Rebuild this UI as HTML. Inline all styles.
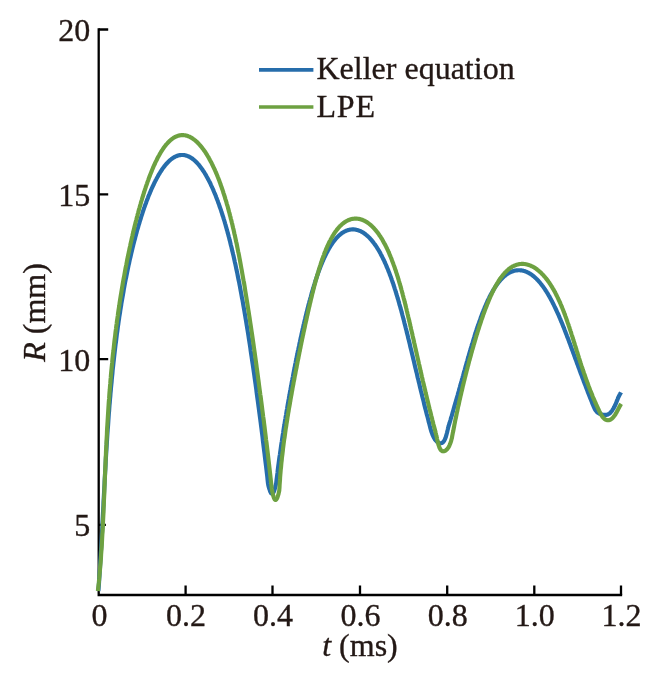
<!DOCTYPE html>
<html lang="en">
<head>
<meta charset="utf-8">
<title>Keller equation vs LPE</title>
<style>
html,body{margin:0;padding:0;background:#fff;}
body{width:669px;height:676px;overflow:hidden;}
</style>
</head>
<body>
<svg width="669" height="676" viewBox="0 0 669 676" style="display:block">
<rect width="669" height="676" fill="#fff"/>
<path d="M98.7,29.5 H108.2 M98.7,194.3 H108.2 M98.7,359.2 H108.2 M98.7,524.8 H105.9 M185.6,595.0 V585.5 M272.5,595.0 V585.5 M360.0,595.0 V585.5 M447.2,595.0 V585.5 M534.3,595.0 V585.5 M621.0,595.0 V585.5" stroke="#000" stroke-width="2.3" fill="none"/>
<path d="M98.7,28.35 V595.0 H622.15" stroke="#000" stroke-width="2.3" fill="none" stroke-linejoin="miter"/>
<path d="M98.4,591.0 L98.7,587.1 L99.0,583.2 L99.2,579.3 L99.5,575.5 L99.7,571.6 L100.0,567.8 L100.2,564.0 L100.4,560.2 L100.6,556.5 L100.8,552.7 L101.1,549.0 L101.3,545.3 L101.5,541.6 L101.7,537.9 L101.9,534.2 L102.1,530.6 L102.3,527.0 L102.4,523.4 L102.6,519.8 L102.8,516.2 L103.0,512.6 L103.2,509.1 L103.4,505.6 L103.5,502.1 L103.7,498.6 L103.9,495.1 L104.1,491.7 L104.3,488.2 L104.5,484.8 L104.6,481.4 L104.8,478.0 L105.0,474.7 L105.2,471.3 L105.4,468.0 L105.6,464.7 L105.7,461.4 L105.9,458.1 L106.1,454.9 L106.3,451.6 L106.5,448.4 L106.7,445.2 L106.9,442.0 L107.1,438.9 L107.3,435.7 L107.5,432.6 L107.7,429.5 L108.0,426.4 L108.2,423.3 L108.4,420.2 L108.6,417.2 L108.8,414.1 L109.1,411.1 L109.3,408.1 L109.5,405.2 L109.8,402.2 L110.0,399.3 L110.3,396.3 L110.5,393.4 L110.8,390.6 L111.0,387.7 L111.3,384.8 L111.6,382.0 L111.8,379.2 L112.1,376.4 L112.4,373.6 L112.6,370.8 L112.9,368.1 L113.2,365.4 L113.5,362.6 L113.8,360.0 L114.1,357.3 L114.4,354.6 L114.7,352.0 L115.0,349.4 L115.3,346.7 L115.6,344.2 L116.0,341.6 L116.3,339.0 L116.6,336.5 L116.9,334.0 L117.3,331.5 L117.6,329.0 L117.9,326.5 L118.3,324.1 L118.6,321.7 L119.0,319.2 L119.3,316.8 L119.7,314.5 L120.1,312.1 L120.4,309.8 L120.8,307.4 L121.2,305.1 L121.5,302.8 L121.9,300.6 L122.3,298.3 L122.7,296.1 L123.1,293.9 L123.5,291.7 L123.8,289.5 L124.2,287.3 L124.6,285.2 L125.0,283.0 L125.4,280.9 L125.8,278.8 L126.3,276.7 L126.7,274.7 L127.1,272.6 L127.5,270.6 L127.9,268.6 L128.3,266.6 L128.7,264.6 L129.2,262.7 L129.6,260.7 L130.0,258.8 L130.5,256.9 L130.9,255.0 L131.3,253.2 L131.8,251.3 L132.2,249.5 L132.6,247.7 L133.1,245.9 L133.5,244.1 L134.0,242.3 L134.4,240.6 L134.9,238.9 L135.3,237.2 L135.8,235.5 L136.2,233.8 L136.7,232.1 L137.1,230.5 L137.6,228.9 L138.1,227.3 L138.5,225.7 L139.0,224.1 L139.5,222.6 L139.9,221.0 L140.4,219.5 L140.9,218.0 L141.3,216.5 L141.8,215.1 L142.3,213.6 L142.7,212.2 L143.2,210.8 L143.7,209.4 L144.1,208.0 L144.6,206.7 L145.1,205.3 L145.6,204.0 L146.1,202.7 L146.5,201.4 L147.0,200.1 L147.5,198.9 L148.0,197.7 L148.4,196.4 L148.9,195.2 L149.4,194.1 L149.9,192.9 L150.4,191.7 L150.9,190.6 L151.3,189.5 L151.8,188.4 L152.3,187.3 L152.8,186.3 L153.3,185.2 L153.8,184.2 L154.2,183.2 L154.7,182.2 L155.2,181.3 L155.7,180.3 L156.2,179.4 L156.7,178.4 L157.2,177.5 L157.7,176.7 L158.1,175.8 L158.6,174.9 L159.1,174.1 L159.6,173.3 L160.1,172.5 L160.6,171.7 L161.1,171.0 L161.6,170.2 L162.1,169.5 L162.5,168.8 L163.0,168.1 L163.5,167.4 L164.0,166.8 L164.5,166.2 L165.0,165.5 L165.5,164.9 L166.0,164.3 L166.5,163.8 L167.0,163.2 L167.5,162.7 L168.0,162.2 L168.4,161.7 L168.9,161.2 L169.4,160.8 L169.9,160.3 L170.4,159.9 L170.9,159.5 L171.4,159.1 L171.9,158.7 L172.4,158.4 L172.9,158.0 L173.4,157.7 L173.9,157.4 L174.4,157.1 L174.9,156.8 L175.3,156.6 L175.8,156.4 L176.3,156.2 L176.8,156.0 L177.3,155.8 L177.8,155.6 L178.3,155.5 L178.8,155.3 L179.3,155.2 L179.8,155.1 L180.3,155.1 L180.8,155.0 L181.3,155.0 L181.8,155.0 L182.3,155.0 L182.8,155.0 L183.3,155.0 L183.8,155.0 L184.3,155.1 L184.8,155.2 L185.3,155.3 L185.7,155.4 L186.2,155.6 L186.7,155.7 L187.2,155.9 L187.7,156.1 L188.2,156.3 L188.7,156.5 L189.2,156.8 L189.7,157.0 L190.2,157.3 L190.7,157.6 L191.2,157.9 L191.7,158.2 L192.2,158.6 L192.7,158.9 L193.2,159.3 L193.7,159.7 L194.2,160.1 L194.7,160.6 L195.2,161.0 L195.7,161.5 L196.2,162.0 L196.7,162.5 L197.2,163.0 L197.7,163.6 L198.2,164.1 L198.7,164.7 L199.2,165.3 L199.6,165.9 L200.1,166.5 L200.6,167.2 L201.1,167.9 L201.6,168.5 L202.1,169.2 L202.6,170.0 L203.1,170.7 L203.6,171.4 L204.1,172.2 L204.6,173.0 L205.1,173.8 L205.6,174.6 L206.1,175.5 L206.5,176.3 L207.0,177.2 L207.5,178.1 L208.0,179.0 L208.5,179.9 L209.0,180.9 L209.5,181.8 L210.0,182.8 L210.5,183.8 L210.9,184.8 L211.4,185.9 L211.9,186.9 L212.4,188.0 L212.9,189.1 L213.4,190.2 L213.8,191.3 L214.3,192.5 L214.8,193.6 L215.3,194.8 L215.8,196.0 L216.2,197.2 L216.7,198.4 L217.2,199.7 L217.7,200.9 L218.1,202.2 L218.6,203.5 L219.1,204.8 L219.5,206.2 L220.0,207.5 L220.5,208.9 L221.0,210.3 L221.4,211.7 L221.9,213.1 L222.3,214.5 L222.8,216.0 L223.3,217.4 L223.7,218.9 L224.2,220.4 L224.7,222.0 L225.1,223.5 L225.6,225.1 L226.0,226.7 L226.5,228.3 L226.9,229.9 L227.4,231.5 L227.8,233.2 L228.3,234.8 L228.7,236.5 L229.2,238.2 L229.6,239.9 L230.1,241.7 L230.5,243.4 L230.9,245.2 L231.4,247.0 L231.8,248.8 L232.2,250.6 L232.7,252.5 L233.1,254.3 L233.6,256.2 L234.0,258.1 L234.4,260.0 L234.8,261.9 L235.3,263.9 L235.7,265.9 L236.1,267.8 L236.5,269.8 L237.0,271.9 L237.4,273.9 L237.8,276.0 L238.2,278.0 L238.6,280.1 L239.1,282.2 L239.5,284.3 L239.9,286.5 L240.3,288.6 L240.7,290.8 L241.1,293.0 L241.5,295.2 L241.9,297.5 L242.4,299.7 L242.8,302.0 L243.2,304.3 L243.6,306.6 L244.0,308.9 L244.4,311.2 L244.8,313.6 L245.2,315.9 L245.6,318.3 L246.0,320.7 L246.4,323.2 L246.8,325.6 L247.2,328.1 L247.6,330.5 L248.0,333.0 L248.4,335.5 L248.8,338.1 L249.2,340.6 L249.6,343.2 L250.0,345.8 L250.4,348.4 L250.7,351.0 L251.1,353.6 L251.5,356.3 L251.9,358.9 L252.3,361.6 L252.7,364.3 L253.1,367.0 L253.5,369.8 L253.9,372.5 L254.3,375.3 L254.7,378.1 L255.1,380.9 L255.5,383.7 L255.9,386.6 L256.3,389.5 L256.6,392.3 L257.0,395.2 L257.4,398.1 L257.8,401.1 L258.2,404.0 L258.6,407.0 L259.0,410.0 L259.4,413.0 L259.8,416.0 L260.2,419.1 L260.6,422.1 L261.0,425.2 L261.4,428.3 L261.8,431.4 L262.2,434.5 L262.6,437.7 L262.9,440.8 L263.3,444.0 L263.7,447.2 L264.1,450.4 L264.5,453.6 L264.9,456.9 L265.3,460.2 L265.7,463.4 L266.1,466.7 L266.5,470.1 L266.9,473.4 L267.3,476.8 L267.6,480.1 L268.0,483.5 L268.1,483.9 L268.2,484.5 L268.3,485.2 L268.5,486.0 L268.7,486.9 L269.0,487.8 L269.3,488.8 L269.6,489.7 L269.9,490.6 L270.2,491.5 L270.6,492.2 L270.9,492.9 L271.3,493.4 L271.7,493.7 L272.1,493.8 L272.5,493.7 L272.9,493.3 L273.3,492.7 L273.7,492.0 L274.1,491.1 L274.4,490.1 L274.7,489.1 L275.1,488.0 L275.3,486.9 L275.6,485.8 L275.8,484.8 L276.0,483.9 L276.2,483.1 L276.3,482.4 L276.3,482.0 L276.6,479.6 L276.9,477.3 L277.2,475.0 L277.5,472.7 L277.7,470.4 L278.0,468.1 L278.3,465.8 L278.6,463.6 L278.9,461.3 L279.2,459.1 L279.5,456.8 L279.9,454.6 L280.2,452.4 L280.5,450.2 L280.8,448.0 L281.1,445.9 L281.4,443.7 L281.8,441.5 L282.1,439.4 L282.4,437.3 L282.7,435.2 L283.1,433.0 L283.4,430.9 L283.7,428.9 L284.0,426.8 L284.4,424.7 L284.7,422.7 L285.0,420.6 L285.4,418.6 L285.7,416.6 L286.1,414.6 L286.4,412.6 L286.7,410.6 L287.1,408.6 L287.4,406.6 L287.7,404.7 L288.1,402.7 L288.4,400.8 L288.8,398.9 L289.1,396.9 L289.5,395.0 L289.8,393.1 L290.1,391.3 L290.5,389.4 L290.8,387.5 L291.2,385.7 L291.5,383.8 L291.8,382.0 L292.2,380.2 L292.5,378.4 L292.9,376.6 L293.2,374.8 L293.5,373.1 L293.9,371.3 L294.2,369.5 L294.6,367.8 L294.9,366.1 L295.2,364.4 L295.6,362.6 L295.9,361.0 L296.3,359.3 L296.6,357.6 L296.9,355.9 L297.3,354.3 L297.6,352.6 L297.9,351.0 L298.3,349.4 L298.6,347.8 L299.0,346.2 L299.3,344.6 L299.6,343.0 L300.0,341.4 L300.3,339.9 L300.6,338.3 L301.0,336.8 L301.3,335.3 L301.6,333.8 L302.0,332.3 L302.3,330.8 L302.6,329.3 L303.0,327.8 L303.3,326.4 L303.6,324.9 L304.0,323.5 L304.3,322.1 L304.6,320.7 L305.0,319.3 L305.3,317.9 L305.6,316.5 L306.0,315.1 L306.3,313.8 L306.6,312.4 L307.0,311.1 L307.3,309.7 L307.6,308.4 L308.0,307.1 L308.3,305.8 L308.6,304.5 L309.0,303.3 L309.3,302.0 L309.6,300.8 L310.0,299.5 L310.3,298.3 L310.7,297.1 L311.0,295.9 L311.3,294.7 L311.7,293.5 L312.0,292.3 L312.3,291.1 L312.7,290.0 L313.0,288.9 L313.4,287.7 L313.7,286.6 L314.0,285.5 L314.4,284.4 L314.7,283.3 L315.1,282.2 L315.4,281.2 L315.7,280.1 L316.1,279.1 L316.4,278.0 L316.8,277.0 L317.1,276.0 L317.5,275.0 L317.8,274.0 L318.1,273.0 L318.5,272.1 L318.8,271.1 L319.2,270.2 L319.5,269.2 L319.9,268.3 L320.2,267.4 L320.6,266.5 L320.9,265.6 L321.3,264.7 L321.7,263.8 L322.0,263.0 L322.4,262.1 L322.7,261.3 L323.1,260.5 L323.4,259.6 L323.8,258.8 L324.2,258.0 L324.5,257.3 L324.9,256.5 L325.3,255.7 L325.6,255.0 L326.0,254.2 L326.4,253.5 L326.7,252.8 L327.1,252.1 L327.5,251.4 L327.8,250.7 L328.2,250.0 L328.6,249.4 L328.9,248.7 L329.3,248.1 L329.7,247.4 L330.1,246.8 L330.4,246.2 L330.8,245.6 L331.2,245.0 L331.6,244.4 L332.0,243.9 L332.4,243.3 L332.7,242.8 L333.1,242.2 L333.5,241.7 L333.9,241.2 L334.3,240.7 L334.7,240.2 L335.1,239.7 L335.5,239.3 L335.8,238.8 L336.2,238.4 L336.6,237.9 L337.0,237.5 L337.4,237.1 L337.8,236.7 L338.2,236.3 L338.6,235.9 L339.0,235.5 L339.4,235.2 L339.8,234.8 L340.2,234.5 L340.6,234.2 L341.0,233.8 L341.4,233.5 L341.8,233.2 L342.2,233.0 L342.6,232.7 L343.0,232.4 L343.5,232.2 L343.9,231.9 L344.3,231.7 L344.7,231.5 L345.1,231.3 L345.5,231.1 L345.9,230.9 L346.3,230.7 L346.7,230.6 L347.2,230.4 L347.6,230.3 L348.0,230.1 L348.4,230.0 L348.8,229.9 L349.2,229.8 L349.7,229.7 L350.1,229.6 L350.5,229.6 L350.9,229.5 L351.3,229.5 L351.7,229.4 L352.2,229.4 L352.6,229.4 L353.0,229.4 L353.4,229.4 L353.8,229.4 L354.3,229.5 L354.7,229.5 L355.1,229.6 L355.5,229.6 L356.0,229.7 L356.4,229.8 L356.8,229.9 L357.2,230.0 L357.6,230.1 L358.1,230.2 L358.5,230.4 L358.9,230.5 L359.3,230.7 L359.8,230.9 L360.2,231.0 L360.6,231.2 L361.0,231.4 L361.4,231.7 L361.9,231.9 L362.3,232.1 L362.7,232.4 L363.1,232.6 L363.6,232.9 L364.0,233.2 L364.4,233.5 L364.8,233.8 L365.2,234.1 L365.7,234.4 L366.1,234.8 L366.5,235.1 L366.9,235.5 L367.3,235.8 L367.7,236.2 L368.2,236.6 L368.6,237.0 L369.0,237.4 L369.4,237.8 L369.8,238.3 L370.2,238.7 L370.6,239.2 L371.1,239.6 L371.5,240.1 L371.9,240.6 L372.3,241.1 L372.7,241.6 L373.1,242.1 L373.5,242.6 L373.9,243.2 L374.3,243.7 L374.7,244.3 L375.2,244.9 L375.6,245.5 L376.0,246.1 L376.4,246.7 L376.8,247.3 L377.2,247.9 L377.6,248.6 L378.0,249.2 L378.4,249.9 L378.8,250.5 L379.2,251.2 L379.6,251.9 L380.0,252.6 L380.4,253.3 L380.7,254.1 L381.1,254.8 L381.5,255.6 L381.9,256.3 L382.3,257.1 L382.7,257.9 L383.1,258.7 L383.5,259.5 L383.9,260.3 L384.3,261.1 L384.6,261.9 L385.0,262.8 L385.4,263.6 L385.8,264.5 L386.2,265.4 L386.5,266.3 L386.9,267.2 L387.3,268.1 L387.7,269.0 L388.1,269.9 L388.4,270.9 L388.8,271.8 L389.2,272.8 L389.6,273.8 L389.9,274.8 L390.3,275.8 L390.7,276.8 L391.1,277.8 L391.4,278.8 L391.8,279.9 L392.2,280.9 L392.5,282.0 L392.9,283.1 L393.3,284.1 L393.6,285.2 L394.0,286.3 L394.4,287.5 L394.7,288.6 L395.1,289.7 L395.5,290.9 L395.8,292.0 L396.2,293.2 L396.5,294.4 L396.9,295.6 L397.3,296.8 L397.6,298.0 L398.0,299.2 L398.4,300.5 L398.7,301.7 L399.1,303.0 L399.4,304.3 L399.8,305.5 L400.2,306.8 L400.5,308.1 L400.9,309.4 L401.3,310.8 L401.6,312.1 L402.0,313.4 L402.3,314.8 L402.7,316.2 L403.1,317.6 L403.4,318.9 L403.8,320.3 L404.2,321.8 L404.5,323.2 L404.9,324.6 L405.3,326.1 L405.6,327.5 L406.0,329.0 L406.4,330.4 L406.7,331.9 L407.1,333.4 L407.5,334.9 L407.9,336.5 L408.2,338.0 L408.6,339.5 L409.0,341.1 L409.4,342.6 L409.8,344.2 L410.1,345.8 L410.5,347.4 L410.9,349.0 L411.3,350.6 L411.7,352.3 L412.1,353.9 L412.5,355.5 L412.9,357.2 L413.3,358.9 L413.7,360.6 L414.1,362.3 L414.5,364.0 L414.9,365.7 L415.3,367.4 L415.7,369.1 L416.1,370.9 L416.6,372.6 L417.0,374.4 L417.4,376.2 L417.8,378.0 L418.3,379.8 L418.7,381.6 L419.2,383.4 L419.6,385.3 L420.0,387.1 L420.5,389.0 L420.9,390.8 L421.4,392.7 L421.9,394.6 L422.3,396.5 L422.8,398.4 L423.3,400.3 L423.8,402.3 L424.2,404.2 L424.7,406.2 L425.2,408.1 L425.7,410.1 L426.2,412.1 L426.7,414.1 L427.3,416.1 L427.8,418.1 L428.3,420.1 L428.8,422.2 L429.4,424.2 L429.9,426.3 L430.1,427.0 L430.3,427.9 L430.6,429.0 L431.0,430.4 L431.4,431.8 L432.0,433.3 L432.6,434.9 L433.3,436.5 L434.1,438.0 L434.9,439.4 L435.9,440.6 L437.0,441.7 L438.2,442.5 L439.4,443.0 L440.8,443.2 L441.7,443.0 L442.6,442.6 L443.3,441.8 L444.1,440.9 L444.7,439.7 L445.3,438.4 L445.8,437.1 L446.2,435.6 L446.6,434.2 L447.0,432.8 L447.3,431.5 L447.6,430.2 L447.8,429.2 L448.0,428.4 L448.1,427.8 L448.6,426.2 L449.0,424.7 L449.5,423.3 L449.9,421.8 L450.4,420.3 L450.8,418.8 L451.2,417.4 L451.7,415.9 L452.1,414.5 L452.5,413.0 L452.9,411.6 L453.3,410.2 L453.7,408.7 L454.1,407.3 L454.5,405.9 L454.9,404.5 L455.3,403.1 L455.7,401.8 L456.1,400.4 L456.5,399.0 L456.9,397.7 L457.3,396.3 L457.7,395.0 L458.0,393.6 L458.4,392.3 L458.8,391.0 L459.1,389.6 L459.5,388.3 L459.9,387.0 L460.2,385.7 L460.6,384.5 L461.0,383.2 L461.3,381.9 L461.7,380.6 L462.0,379.4 L462.4,378.1 L462.7,376.9 L463.1,375.6 L463.4,374.4 L463.7,373.2 L464.1,372.0 L464.4,370.8 L464.8,369.6 L465.1,368.4 L465.4,367.2 L465.8,366.0 L466.1,364.8 L466.4,363.7 L466.7,362.5 L467.1,361.3 L467.4,360.2 L467.7,359.1 L468.0,357.9 L468.4,356.8 L468.7,355.7 L469.0,354.6 L469.3,353.5 L469.6,352.4 L470.0,351.3 L470.3,350.2 L470.6,349.2 L470.9,348.1 L471.2,347.0 L471.5,346.0 L471.8,344.9 L472.1,343.9 L472.5,342.9 L472.8,341.9 L473.1,340.8 L473.4,339.8 L473.7,338.8 L474.0,337.8 L474.3,336.9 L474.6,335.9 L474.9,334.9 L475.2,333.9 L475.5,333.0 L475.8,332.0 L476.1,331.1 L476.4,330.2 L476.7,329.2 L477.0,328.3 L477.3,327.4 L477.6,326.5 L478.0,325.6 L478.3,324.7 L478.6,323.8 L478.9,323.0 L479.2,322.1 L479.5,321.2 L479.8,320.4 L480.1,319.5 L480.4,318.7 L480.7,317.8 L481.0,317.0 L481.3,316.2 L481.6,315.4 L481.9,314.6 L482.2,313.8 L482.5,313.0 L482.8,312.2 L483.1,311.4 L483.4,310.7 L483.7,309.9 L484.0,309.2 L484.3,308.4 L484.6,307.7 L484.9,306.9 L485.3,306.2 L485.6,305.5 L485.9,304.8 L486.2,304.1 L486.5,303.4 L486.8,302.7 L487.1,302.0 L487.4,301.3 L487.7,300.7 L488.0,300.0 L488.4,299.4 L488.7,298.7 L489.0,298.1 L489.3,297.4 L489.6,296.8 L489.9,296.2 L490.2,295.6 L490.5,295.0 L490.9,294.4 L491.2,293.8 L491.5,293.2 L491.8,292.7 L492.1,292.1 L492.5,291.5 L492.8,291.0 L493.1,290.4 L493.4,289.9 L493.7,289.4 L494.1,288.8 L494.4,288.3 L494.7,287.8 L495.0,287.3 L495.4,286.8 L495.7,286.3 L496.0,285.9 L496.3,285.4 L496.7,284.9 L497.0,284.5 L497.3,284.0 L497.6,283.6 L498.0,283.1 L498.3,282.7 L498.6,282.3 L499.0,281.9 L499.3,281.5 L499.6,281.1 L500.0,280.7 L500.3,280.3 L500.6,279.9 L501.0,279.5 L501.3,279.2 L501.6,278.8 L502.0,278.5 L502.3,278.1 L502.7,277.8 L503.0,277.5 L503.3,277.1 L503.7,276.8 L504.0,276.5 L504.4,276.2 L504.7,275.9 L505.1,275.7 L505.4,275.4 L505.7,275.1 L506.1,274.8 L506.4,274.6 L506.8,274.3 L507.1,274.1 L507.5,273.9 L507.8,273.6 L508.2,273.4 L508.5,273.2 L508.9,273.0 L509.2,272.8 L509.6,272.6 L509.9,272.4 L510.3,272.3 L510.6,272.1 L511.0,271.9 L511.3,271.8 L511.7,271.6 L512.0,271.5 L512.4,271.4 L512.7,271.2 L513.1,271.1 L513.5,271.0 L513.8,270.9 L514.2,270.8 L514.5,270.7 L514.9,270.6 L515.2,270.6 L515.6,270.5 L516.0,270.4 L516.3,270.4 L516.7,270.3 L517.0,270.3 L517.4,270.3 L517.7,270.2 L518.1,270.2 L518.5,270.2 L518.8,270.2 L519.2,270.2 L519.5,270.2 L519.9,270.2 L520.3,270.3 L520.6,270.3 L521.0,270.3 L521.4,270.4 L521.7,270.4 L522.1,270.5 L522.4,270.6 L522.8,270.6 L523.2,270.7 L523.5,270.8 L523.9,270.9 L524.2,271.0 L524.6,271.1 L525.0,271.3 L525.3,271.4 L525.7,271.5 L526.1,271.7 L526.4,271.8 L526.8,272.0 L527.1,272.1 L527.5,272.3 L527.9,272.5 L528.2,272.7 L528.6,272.9 L529.0,273.1 L529.3,273.3 L529.7,273.5 L530.0,273.7 L530.4,273.9 L530.8,274.2 L531.1,274.4 L531.5,274.7 L531.9,274.9 L532.2,275.2 L532.6,275.5 L532.9,275.7 L533.3,276.0 L533.7,276.3 L534.0,276.6 L534.4,276.9 L534.7,277.2 L535.1,277.6 L535.5,277.9 L535.8,278.2 L536.2,278.6 L536.5,278.9 L536.9,279.3 L537.2,279.7 L537.6,280.0 L538.0,280.4 L538.3,280.8 L538.7,281.2 L539.0,281.6 L539.4,282.0 L539.8,282.4 L540.1,282.8 L540.5,283.3 L540.8,283.7 L541.2,284.2 L541.5,284.6 L541.9,285.1 L542.2,285.5 L542.6,286.0 L543.0,286.5 L543.3,287.0 L543.7,287.5 L544.0,288.0 L544.4,288.5 L544.7,289.0 L545.1,289.5 L545.4,290.1 L545.8,290.6 L546.1,291.1 L546.5,291.7 L546.8,292.3 L547.2,292.8 L547.5,293.4 L547.9,294.0 L548.2,294.6 L548.6,295.2 L548.9,295.8 L549.3,296.4 L549.6,297.0 L550.0,297.6 L550.3,298.3 L550.7,298.9 L551.0,299.6 L551.4,300.2 L551.7,300.9 L552.1,301.5 L552.4,302.2 L552.8,302.9 L553.1,303.6 L553.5,304.3 L553.8,305.0 L554.2,305.7 L554.5,306.4 L554.9,307.2 L555.2,307.9 L555.6,308.6 L555.9,309.4 L556.3,310.1 L556.6,310.9 L557.0,311.7 L557.3,312.4 L557.7,313.2 L558.1,314.0 L558.4,314.8 L558.8,315.6 L559.1,316.4 L559.5,317.3 L559.8,318.1 L560.2,318.9 L560.5,319.8 L560.9,320.6 L561.2,321.5 L561.6,322.3 L562.0,323.2 L562.3,324.1 L562.7,325.0 L563.0,325.9 L563.4,326.8 L563.8,327.7 L564.1,328.6 L564.5,329.5 L564.8,330.4 L565.2,331.4 L565.6,332.3 L565.9,333.3 L566.3,334.2 L566.7,335.2 L567.0,336.2 L567.4,337.2 L567.8,338.1 L568.2,339.1 L568.5,340.1 L568.9,341.1 L569.3,342.2 L569.7,343.2 L570.1,344.2 L570.5,345.3 L570.8,346.3 L571.2,347.4 L571.6,348.4 L572.0,349.5 L572.4,350.6 L572.8,351.6 L573.2,352.7 L573.6,353.8 L574.0,354.9 L574.4,356.0 L574.8,357.1 L575.2,358.3 L575.6,359.4 L576.1,360.5 L576.5,361.7 L576.9,362.8 L577.3,364.0 L577.8,365.2 L578.2,366.3 L578.6,367.5 L579.1,368.7 L579.5,369.9 L579.9,371.1 L580.4,372.3 L580.8,373.5 L581.3,374.8 L581.8,376.0 L582.2,377.2 L582.7,378.5 L583.2,379.7 L583.6,381.0 L584.1,382.3 L584.6,383.6 L585.1,384.8 L585.6,386.1 L586.1,387.4 L586.6,388.7 L587.1,390.0 L587.6,391.4 L588.1,392.7 L588.6,394.0 L589.2,395.4 L589.7,396.7 L590.2,398.1 L590.8,399.4 L591.3,400.8 L591.9,402.2 L592.4,403.6 L593.0,405.0 L593.6,406.4 L594.2,407.8 L594.7,408.8 L595.2,409.8 L595.8,410.7 L596.5,411.5 L597.2,412.2 L597.9,412.7 L598.7,413.2 L599.5,413.7 L600.4,414.0 L601.2,414.3 L602.1,414.5 L603.0,414.7 L603.9,414.8 L604.9,414.9 L605.8,414.9 L606.3,414.9 L606.8,414.8 L607.2,414.7 L607.7,414.5 L608.2,414.3 L608.7,414.0 L609.2,413.7 L609.8,413.3 L610.3,412.8 L610.8,412.2 L611.4,411.5 L612.0,410.8 L612.5,409.9 L613.2,408.9 L613.8,407.9 L614.0,407.5 L614.2,407.0 L614.5,406.6 L614.7,406.2 L614.9,405.8 L615.1,405.3 L615.3,404.9 L615.5,404.5 L615.7,404.0 L615.9,403.6 L616.1,403.1 L616.2,402.7 L616.4,402.2 L616.6,401.8 L616.8,401.3 L617.0,400.9 L617.1,400.4 L617.3,400.0 L617.5,399.5 L617.7,399.1 L617.9,398.6 L618.0,398.2 L618.2,397.8 L618.4,397.3 L618.6,396.9 L618.8,396.5 L619.0,396.0 L619.2,395.6 L619.4,395.2 L619.6,394.8 L619.8,394.4 L620.1,394.0 L620.3,393.6 L620.5,393.2 L620.8,392.8 L621.0,392.4" stroke="#266dab" stroke-width="4.15" fill="none" stroke-linejoin="round" stroke-linecap="butt"/>
<path d="M97.9,591.0 L98.3,586.9 L98.8,582.8 L99.2,578.7 L99.5,574.7 L99.9,570.6 L100.2,566.6 L100.6,562.6 L100.9,558.6 L101.1,554.6 L101.4,550.7 L101.7,546.8 L101.9,542.9 L102.1,539.0 L102.3,535.1 L102.6,531.3 L102.8,527.4 L102.9,523.6 L103.1,519.8 L103.3,516.0 L103.5,512.3 L103.6,508.5 L103.8,504.8 L103.9,501.1 L104.1,497.4 L104.3,493.8 L104.4,490.1 L104.5,486.5 L104.7,482.9 L104.8,479.3 L105.0,475.7 L105.1,472.1 L105.3,468.6 L105.4,465.1 L105.6,461.6 L105.7,458.1 L105.9,454.7 L106.0,451.2 L106.2,447.8 L106.4,444.4 L106.5,441.0 L106.7,437.6 L106.9,434.3 L107.0,430.9 L107.2,427.6 L107.4,424.3 L107.6,421.1 L107.8,417.8 L108.0,414.6 L108.2,411.4 L108.4,408.2 L108.6,405.0 L108.8,401.8 L109.1,398.7 L109.3,395.5 L109.5,392.4 L109.8,389.3 L110.0,386.3 L110.3,383.2 L110.5,380.2 L110.8,377.2 L111.0,374.2 L111.3,371.2 L111.6,368.2 L111.9,365.3 L112.2,362.4 L112.4,359.5 L112.7,356.6 L113.0,353.7 L113.4,350.9 L113.7,348.1 L114.0,345.3 L114.3,342.5 L114.6,339.7 L115.0,336.9 L115.3,334.2 L115.6,331.5 L116.0,328.8 L116.3,326.1 L116.7,323.5 L117.0,320.8 L117.4,318.2 L117.8,315.6 L118.1,313.0 L118.5,310.4 L118.9,307.9 L119.3,305.4 L119.6,302.9 L120.0,300.4 L120.4,297.9 L120.8,295.4 L121.2,293.0 L121.6,290.6 L122.0,288.2 L122.4,285.8 L122.8,283.4 L123.2,281.1 L123.6,278.8 L124.1,276.5 L124.5,274.2 L124.9,271.9 L125.3,269.7 L125.7,267.4 L126.2,265.2 L126.6,263.0 L127.0,260.9 L127.4,258.7 L127.9,256.6 L128.3,254.4 L128.8,252.3 L129.2,250.3 L129.6,248.2 L130.1,246.2 L130.5,244.1 L131.0,242.1 L131.4,240.1 L131.8,238.2 L132.3,236.2 L132.7,234.3 L133.2,232.4 L133.6,230.5 L134.1,228.6 L134.5,226.7 L135.0,224.9 L135.4,223.1 L135.9,221.3 L136.4,219.5 L136.8,217.7 L137.3,216.0 L137.7,214.3 L138.2,212.5 L138.6,210.9 L139.1,209.2 L139.6,207.5 L140.0,205.9 L140.5,204.3 L140.9,202.7 L141.4,201.1 L141.9,199.5 L142.3,198.0 L142.8,196.5 L143.3,195.0 L143.7,193.5 L144.2,192.0 L144.6,190.6 L145.1,189.2 L145.6,187.7 L146.0,186.4 L146.5,185.0 L147.0,183.6 L147.4,182.3 L147.9,181.0 L148.4,179.7 L148.8,178.4 L149.3,177.1 L149.8,175.9 L150.2,174.7 L150.7,173.5 L151.2,172.3 L151.7,171.1 L152.1,170.0 L152.6,168.8 L153.1,167.7 L153.5,166.6 L154.0,165.5 L154.5,164.5 L155.0,163.5 L155.4,162.4 L155.9,161.4 L156.4,160.5 L156.9,159.5 L157.4,158.5 L157.8,157.6 L158.3,156.7 L158.8,155.8 L159.3,155.0 L159.8,154.1 L160.2,153.3 L160.7,152.5 L161.2,151.7 L161.7,150.9 L162.2,150.1 L162.7,149.4 L163.1,148.7 L163.6,148.0 L164.1,147.3 L164.6,146.6 L165.1,146.0 L165.6,145.3 L166.1,144.7 L166.6,144.1 L167.1,143.6 L167.6,143.0 L168.1,142.5 L168.6,142.0 L169.1,141.5 L169.6,141.0 L170.1,140.5 L170.6,140.1 L171.1,139.7 L171.6,139.3 L172.1,138.9 L172.6,138.5 L173.1,138.2 L173.6,137.8 L174.1,137.5 L174.6,137.2 L175.1,137.0 L175.6,136.7 L176.2,136.5 L176.7,136.3 L177.2,136.1 L177.7,135.9 L178.2,135.7 L178.7,135.6 L179.3,135.5 L179.8,135.3 L180.3,135.3 L180.8,135.2 L181.3,135.1 L181.9,135.1 L182.4,135.1 L182.9,135.1 L183.4,135.1 L184.0,135.2 L184.5,135.2 L185.0,135.3 L185.5,135.4 L186.1,135.5 L186.6,135.7 L187.1,135.8 L187.7,136.0 L188.2,136.2 L188.7,136.4 L189.3,136.6 L189.8,136.9 L190.3,137.2 L190.9,137.4 L191.4,137.7 L191.9,138.1 L192.5,138.4 L193.0,138.8 L193.5,139.2 L194.1,139.6 L194.6,140.0 L195.1,140.4 L195.7,140.9 L196.2,141.3 L196.8,141.8 L197.3,142.3 L197.8,142.9 L198.4,143.4 L198.9,144.0 L199.4,144.6 L200.0,145.2 L200.5,145.8 L201.0,146.4 L201.6,147.1 L202.1,147.8 L202.6,148.5 L203.2,149.2 L203.7,149.9 L204.2,150.7 L204.8,151.4 L205.3,152.2 L205.8,153.0 L206.4,153.9 L206.9,154.7 L207.4,155.6 L207.9,156.4 L208.5,157.3 L209.0,158.3 L209.5,159.2 L210.0,160.2 L210.5,161.1 L211.1,162.1 L211.6,163.1 L212.1,164.2 L212.6,165.2 L213.1,166.3 L213.6,167.4 L214.1,168.5 L214.7,169.6 L215.2,170.8 L215.7,171.9 L216.2,173.1 L216.7,174.3 L217.2,175.5 L217.7,176.8 L218.2,178.0 L218.7,179.3 L219.2,180.6 L219.7,181.9 L220.2,183.2 L220.6,184.6 L221.1,185.9 L221.6,187.3 L222.1,188.7 L222.6,190.2 L223.1,191.6 L223.5,193.1 L224.0,194.5 L224.5,196.0 L225.0,197.6 L225.4,199.1 L225.9,200.6 L226.4,202.2 L226.8,203.8 L227.3,205.4 L227.8,207.0 L228.2,208.7 L228.7,210.4 L229.1,212.0 L229.6,213.7 L230.0,215.5 L230.5,217.2 L230.9,219.0 L231.4,220.7 L231.8,222.5 L232.3,224.4 L232.7,226.2 L233.1,228.0 L233.6,229.9 L234.0,231.8 L234.4,233.7 L234.9,235.6 L235.3,237.6 L235.7,239.5 L236.1,241.5 L236.6,243.5 L237.0,245.5 L237.4,247.6 L237.8,249.6 L238.2,251.7 L238.7,253.8 L239.1,255.9 L239.5,258.1 L239.9,260.2 L240.3,262.4 L240.7,264.6 L241.1,266.8 L241.5,269.0 L241.9,271.2 L242.3,273.5 L242.7,275.8 L243.1,278.1 L243.5,280.4 L244.0,282.7 L244.4,285.1 L244.8,287.5 L245.1,289.9 L245.5,292.3 L245.9,294.7 L246.3,297.2 L246.7,299.6 L247.1,302.1 L247.5,304.6 L247.9,307.1 L248.3,309.7 L248.7,312.2 L249.1,314.8 L249.5,317.4 L249.9,320.0 L250.3,322.7 L250.7,325.3 L251.1,328.0 L251.5,330.7 L251.9,333.4 L252.3,336.1 L252.7,338.9 L253.1,341.6 L253.5,344.4 L253.9,347.2 L254.3,350.0 L254.7,352.9 L255.1,355.7 L255.5,358.6 L255.9,361.5 L256.3,364.4 L256.7,367.4 L257.1,370.3 L257.5,373.3 L257.9,376.3 L258.3,379.3 L258.7,382.3 L259.1,385.4 L259.5,388.4 L259.9,391.5 L260.3,394.6 L260.8,397.7 L261.2,400.9 L261.6,404.0 L262.0,407.2 L262.4,410.4 L262.8,413.6 L263.2,416.8 L263.7,420.1 L264.1,423.4 L264.5,426.6 L264.9,430.0 L265.3,433.3 L265.7,436.6 L266.1,440.0 L266.6,443.4 L267.0,446.8 L267.4,450.2 L267.8,453.6 L268.2,457.1 L268.6,460.6 L269.0,464.0 L269.4,467.6 L269.8,471.1 L270.2,474.6 L270.6,478.2 L271.0,481.8 L271.4,485.4 L271.8,489.0 L271.9,489.4 L272.0,490.0 L272.1,490.8 L272.3,491.7 L272.5,492.6 L272.7,493.6 L272.9,494.6 L273.2,495.6 L273.5,496.6 L273.8,497.5 L274.1,498.3 L274.4,499.0 L274.7,499.5 L275.1,499.9 L275.4,500.0 L275.8,499.9 L276.2,499.6 L276.5,499.1 L276.9,498.5 L277.3,497.7 L277.6,496.9 L277.9,496.0 L278.2,495.0 L278.5,494.1 L278.7,493.1 L278.9,492.3 L279.1,491.5 L279.2,490.8 L279.3,490.2 L279.3,489.8 L279.5,487.3 L279.6,484.8 L279.8,482.3 L280.0,479.9 L280.1,477.4 L280.3,474.9 L280.5,472.5 L280.7,470.1 L281.0,467.6 L281.2,465.2 L281.4,462.8 L281.7,460.5 L281.9,458.1 L282.2,455.7 L282.5,453.4 L282.8,451.0 L283.0,448.7 L283.3,446.4 L283.6,444.1 L283.9,441.8 L284.2,439.5 L284.6,437.3 L284.9,435.0 L285.2,432.8 L285.5,430.5 L285.8,428.3 L286.2,426.1 L286.5,423.9 L286.9,421.7 L287.2,419.6 L287.5,417.4 L287.9,415.2 L288.2,413.1 L288.6,411.0 L288.9,408.9 L289.3,406.8 L289.7,404.7 L290.0,402.6 L290.4,400.5 L290.7,398.5 L291.1,396.4 L291.5,394.4 L291.8,392.4 L292.2,390.4 L292.5,388.4 L292.9,386.4 L293.3,384.4 L293.6,382.4 L294.0,380.5 L294.4,378.5 L294.7,376.6 L295.1,374.7 L295.5,372.8 L295.8,370.9 L296.2,369.0 L296.6,367.2 L296.9,365.3 L297.3,363.5 L297.6,361.6 L298.0,359.8 L298.4,358.0 L298.7,356.2 L299.1,354.4 L299.4,352.6 L299.8,350.9 L300.1,349.1 L300.5,347.4 L300.8,345.6 L301.2,343.9 L301.5,342.2 L301.9,340.5 L302.2,338.8 L302.6,337.2 L302.9,335.5 L303.3,333.9 L303.6,332.2 L304.0,330.6 L304.3,329.0 L304.7,327.4 L305.0,325.8 L305.3,324.2 L305.7,322.7 L306.0,321.1 L306.4,319.6 L306.7,318.0 L307.0,316.5 L307.4,315.0 L307.7,313.5 L308.0,312.0 L308.4,310.6 L308.7,309.1 L309.0,307.6 L309.4,306.2 L309.7,304.8 L310.0,303.4 L310.4,302.0 L310.7,300.6 L311.0,299.2 L311.4,297.8 L311.7,296.5 L312.0,295.1 L312.3,293.8 L312.7,292.5 L313.0,291.2 L313.3,289.9 L313.7,288.6 L314.0,287.3 L314.3,286.1 L314.6,284.8 L315.0,283.6 L315.3,282.3 L315.6,281.1 L315.9,279.9 L316.3,278.7 L316.6,277.6 L316.9,276.4 L317.3,275.2 L317.6,274.1 L317.9,273.0 L318.3,271.8 L318.6,270.7 L318.9,269.6 L319.2,268.5 L319.6,267.5 L319.9,266.4 L320.3,265.4 L320.6,264.3 L320.9,263.3 L321.3,262.3 L321.6,261.3 L321.9,260.3 L322.3,259.3 L322.6,258.3 L323.0,257.4 L323.3,256.4 L323.7,255.5 L324.0,254.6 L324.3,253.6 L324.7,252.7 L325.0,251.9 L325.4,251.0 L325.7,250.1 L326.1,249.3 L326.5,248.4 L326.8,247.6 L327.2,246.8 L327.5,246.0 L327.9,245.2 L328.2,244.4 L328.6,243.6 L329.0,242.9 L329.3,242.1 L329.7,241.4 L330.1,240.7 L330.5,239.9 L330.8,239.2 L331.2,238.6 L331.6,237.9 L332.0,237.2 L332.3,236.6 L332.7,235.9 L333.1,235.3 L333.5,234.7 L333.9,234.1 L334.2,233.5 L334.6,232.9 L335.0,232.3 L335.4,231.8 L335.8,231.2 L336.2,230.7 L336.6,230.1 L337.0,229.6 L337.4,229.1 L337.8,228.6 L338.2,228.2 L338.6,227.7 L339.0,227.2 L339.4,226.8 L339.8,226.4 L340.2,225.9 L340.7,225.5 L341.1,225.1 L341.5,224.8 L341.9,224.4 L342.3,224.0 L342.7,223.7 L343.2,223.3 L343.6,223.0 L344.0,222.7 L344.4,222.4 L344.9,222.1 L345.3,221.8 L345.7,221.5 L346.1,221.3 L346.6,221.0 L347.0,220.8 L347.4,220.6 L347.9,220.4 L348.3,220.2 L348.8,220.0 L349.2,219.8 L349.6,219.7 L350.1,219.5 L350.5,219.4 L351.0,219.2 L351.4,219.1 L351.8,219.0 L352.3,218.9 L352.7,218.8 L353.2,218.8 L353.6,218.7 L354.1,218.7 L354.5,218.6 L355.0,218.6 L355.4,218.6 L355.9,218.6 L356.3,218.6 L356.8,218.6 L357.2,218.7 L357.7,218.7 L358.1,218.8 L358.6,218.9 L359.0,218.9 L359.5,219.0 L360.0,219.1 L360.4,219.3 L360.9,219.4 L361.3,219.5 L361.8,219.7 L362.2,219.8 L362.7,220.0 L363.1,220.2 L363.6,220.4 L364.0,220.6 L364.5,220.8 L364.9,221.1 L365.4,221.3 L365.9,221.6 L366.3,221.8 L366.8,222.1 L367.2,222.4 L367.7,222.7 L368.1,223.0 L368.6,223.4 L369.0,223.7 L369.5,224.1 L369.9,224.4 L370.4,224.8 L370.8,225.2 L371.3,225.6 L371.7,226.0 L372.1,226.4 L372.6,226.8 L373.0,227.3 L373.5,227.7 L373.9,228.2 L374.4,228.7 L374.8,229.2 L375.2,229.7 L375.7,230.2 L376.1,230.7 L376.5,231.3 L377.0,231.8 L377.4,232.4 L377.8,232.9 L378.3,233.5 L378.7,234.1 L379.1,234.7 L379.5,235.4 L380.0,236.0 L380.4,236.6 L380.8,237.3 L381.2,238.0 L381.7,238.6 L382.1,239.3 L382.5,240.0 L382.9,240.7 L383.3,241.5 L383.7,242.2 L384.1,243.0 L384.6,243.7 L385.0,244.5 L385.4,245.3 L385.8,246.1 L386.2,246.9 L386.6,247.7 L387.0,248.5 L387.4,249.4 L387.8,250.2 L388.2,251.1 L388.6,252.0 L389.0,252.8 L389.3,253.7 L389.7,254.7 L390.1,255.6 L390.5,256.5 L390.9,257.5 L391.3,258.4 L391.7,259.4 L392.0,260.4 L392.4,261.4 L392.8,262.4 L393.2,263.4 L393.5,264.4 L393.9,265.5 L394.3,266.5 L394.7,267.6 L395.0,268.7 L395.4,269.7 L395.8,270.8 L396.1,272.0 L396.5,273.1 L396.9,274.2 L397.2,275.4 L397.6,276.5 L398.0,277.7 L398.3,278.9 L398.7,280.1 L399.0,281.3 L399.4,282.5 L399.7,283.7 L400.1,284.9 L400.5,286.2 L400.8,287.5 L401.2,288.7 L401.5,290.0 L401.9,291.3 L402.2,292.6 L402.6,293.9 L402.9,295.3 L403.3,296.6 L403.6,298.0 L404.0,299.4 L404.4,300.7 L404.7,302.1 L405.1,303.5 L405.4,304.9 L405.8,306.4 L406.1,307.8 L406.5,309.3 L406.8,310.7 L407.2,312.2 L407.5,313.7 L407.9,315.2 L408.2,316.7 L408.6,318.2 L409.0,319.7 L409.3,321.3 L409.7,322.8 L410.1,324.4 L410.4,326.0 L410.8,327.6 L411.1,329.2 L411.5,330.8 L411.9,332.4 L412.3,334.0 L412.6,335.7 L413.0,337.4 L413.4,339.0 L413.8,340.7 L414.1,342.4 L414.5,344.1 L414.9,345.8 L415.3,347.6 L415.7,349.3 L416.1,351.1 L416.5,352.8 L416.9,354.6 L417.3,356.4 L417.7,358.2 L418.1,360.0 L418.5,361.8 L418.9,363.7 L419.4,365.5 L419.8,367.4 L420.2,369.2 L420.6,371.1 L421.1,373.0 L421.5,374.9 L421.9,376.8 L422.4,378.8 L422.8,380.7 L423.3,382.7 L423.8,384.6 L424.2,386.6 L424.7,388.6 L425.2,390.6 L425.6,392.6 L426.1,394.6 L426.6,396.6 L427.1,398.7 L427.6,400.8 L428.1,402.8 L428.6,404.9 L429.1,407.0 L429.6,409.1 L430.2,411.2 L430.7,413.3 L431.2,415.5 L431.8,417.6 L432.3,419.8 L432.9,422.0 L433.4,424.2 L434.0,426.4 L434.6,428.6 L435.2,430.8 L435.7,433.0 L436.3,435.3 L436.5,435.9 L436.6,436.8 L436.9,437.9 L437.1,439.1 L437.4,440.5 L437.7,441.9 L438.1,443.4 L438.5,444.9 L439.0,446.3 L439.5,447.7 L440.1,448.9 L440.7,449.9 L441.5,450.6 L442.2,451.1 L443.1,451.3 L444.3,451.1 L445.4,450.7 L446.4,449.9 L447.3,449.0 L448.1,447.9 L448.9,446.6 L449.5,445.3 L450.1,443.9 L450.6,442.5 L451.1,441.1 L451.4,439.8 L451.7,438.7 L452.0,437.6 L452.1,436.8 L452.2,436.2 L452.5,434.6 L452.8,432.9 L453.2,431.3 L453.5,429.7 L453.8,428.1 L454.1,426.5 L454.4,424.9 L454.7,423.3 L455.0,421.8 L455.3,420.2 L455.7,418.6 L456.0,417.1 L456.3,415.5 L456.6,414.0 L456.9,412.5 L457.3,411.0 L457.6,409.4 L457.9,407.9 L458.2,406.4 L458.6,405.0 L458.9,403.5 L459.2,402.0 L459.5,400.5 L459.9,399.1 L460.2,397.6 L460.5,396.2 L460.9,394.8 L461.2,393.3 L461.5,391.9 L461.9,390.5 L462.2,389.1 L462.5,387.7 L462.8,386.3 L463.2,384.9 L463.5,383.6 L463.8,382.2 L464.2,380.8 L464.5,379.5 L464.8,378.2 L465.2,376.8 L465.5,375.5 L465.8,374.2 L466.2,372.9 L466.5,371.6 L466.8,370.3 L467.2,369.0 L467.5,367.7 L467.8,366.4 L468.2,365.2 L468.5,363.9 L468.8,362.7 L469.1,361.4 L469.5,360.2 L469.8,359.0 L470.1,357.8 L470.5,356.6 L470.8,355.4 L471.1,354.2 L471.4,353.0 L471.8,351.8 L472.1,350.6 L472.4,349.5 L472.8,348.3 L473.1,347.2 L473.4,346.1 L473.7,344.9 L474.1,343.8 L474.4,342.7 L474.7,341.6 L475.0,340.5 L475.4,339.4 L475.7,338.3 L476.0,337.2 L476.3,336.2 L476.6,335.1 L477.0,334.1 L477.3,333.0 L477.6,332.0 L477.9,331.0 L478.2,329.9 L478.6,328.9 L478.9,327.9 L479.2,326.9 L479.5,325.9 L479.8,325.0 L480.2,324.0 L480.5,323.0 L480.8,322.1 L481.1,321.1 L481.4,320.2 L481.7,319.2 L482.1,318.3 L482.4,317.4 L482.7,316.5 L483.0,315.6 L483.3,314.7 L483.6,313.8 L484.0,312.9 L484.3,312.0 L484.6,311.2 L484.9,310.3 L485.2,309.5 L485.5,308.6 L485.9,307.8 L486.2,307.0 L486.5,306.2 L486.8,305.4 L487.1,304.6 L487.4,303.8 L487.8,303.0 L488.1,302.2 L488.4,301.4 L488.7,300.7 L489.0,299.9 L489.3,299.2 L489.7,298.4 L490.0,297.7 L490.3,297.0 L490.6,296.3 L490.9,295.5 L491.3,294.8 L491.6,294.2 L491.9,293.5 L492.2,292.8 L492.5,292.1 L492.9,291.5 L493.2,290.8 L493.5,290.2 L493.8,289.5 L494.1,288.9 L494.5,288.3 L494.8,287.7 L495.1,287.1 L495.4,286.5 L495.8,285.9 L496.1,285.3 L496.4,284.7 L496.7,284.2 L497.1,283.6 L497.4,283.0 L497.7,282.5 L498.1,282.0 L498.4,281.4 L498.7,280.9 L499.0,280.4 L499.4,279.9 L499.7,279.4 L500.0,278.9 L500.4,278.4 L500.7,278.0 L501.0,277.5 L501.4,277.0 L501.7,276.6 L502.1,276.2 L502.4,275.7 L502.7,275.3 L503.1,274.9 L503.4,274.5 L503.8,274.1 L504.1,273.7 L504.4,273.3 L504.8,272.9 L505.1,272.5 L505.5,272.2 L505.8,271.8 L506.2,271.5 L506.5,271.1 L506.9,270.8 L507.2,270.5 L507.6,270.2 L507.9,269.8 L508.3,269.5 L508.6,269.2 L509.0,269.0 L509.3,268.7 L509.7,268.4 L510.1,268.2 L510.4,267.9 L510.8,267.7 L511.1,267.4 L511.5,267.2 L511.8,267.0 L512.2,266.7 L512.6,266.5 L512.9,266.3 L513.3,266.2 L513.7,266.0 L514.0,265.8 L514.4,265.6 L514.8,265.5 L515.1,265.3 L515.5,265.2 L515.9,265.0 L516.3,264.9 L516.6,264.8 L517.0,264.7 L517.4,264.6 L517.8,264.5 L518.1,264.4 L518.5,264.3 L518.9,264.2 L519.3,264.1 L519.6,264.1 L520.0,264.0 L520.4,264.0 L520.8,264.0 L521.2,263.9 L521.5,263.9 L521.9,263.9 L522.3,263.9 L522.7,263.9 L523.1,263.9 L523.5,263.9 L523.8,264.0 L524.2,264.0 L524.6,264.0 L525.0,264.1 L525.4,264.2 L525.8,264.2 L526.2,264.3 L526.6,264.4 L527.0,264.5 L527.3,264.6 L527.7,264.7 L528.1,264.8 L528.5,264.9 L528.9,265.0 L529.3,265.2 L529.7,265.3 L530.1,265.5 L530.5,265.6 L530.9,265.8 L531.3,266.0 L531.6,266.2 L532.0,266.3 L532.4,266.5 L532.8,266.7 L533.2,267.0 L533.6,267.2 L534.0,267.4 L534.4,267.7 L534.8,267.9 L535.2,268.2 L535.6,268.4 L536.0,268.7 L536.4,269.0 L536.8,269.2 L537.1,269.5 L537.5,269.8 L537.9,270.2 L538.3,270.5 L538.7,270.8 L539.1,271.1 L539.5,271.5 L539.9,271.8 L540.3,272.2 L540.7,272.5 L541.1,272.9 L541.4,273.3 L541.8,273.7 L542.2,274.1 L542.6,274.5 L543.0,274.9 L543.4,275.3 L543.8,275.7 L544.1,276.2 L544.5,276.6 L544.9,277.0 L545.3,277.5 L545.7,278.0 L546.0,278.4 L546.4,278.9 L546.8,279.4 L547.2,279.9 L547.6,280.4 L547.9,280.9 L548.3,281.4 L548.7,282.0 L549.1,282.5 L549.4,283.0 L549.8,283.6 L550.2,284.2 L550.5,284.7 L550.9,285.3 L551.3,285.9 L551.7,286.5 L552.0,287.1 L552.4,287.7 L552.7,288.3 L553.1,288.9 L553.5,289.5 L553.8,290.2 L554.2,290.8 L554.6,291.5 L554.9,292.1 L555.3,292.8 L555.6,293.5 L556.0,294.2 L556.3,294.9 L556.7,295.6 L557.0,296.3 L557.4,297.0 L557.7,297.7 L558.1,298.4 L558.4,299.2 L558.8,299.9 L559.1,300.7 L559.5,301.4 L559.8,302.2 L560.2,303.0 L560.5,303.8 L560.8,304.6 L561.2,305.4 L561.5,306.2 L561.9,307.0 L562.2,307.8 L562.5,308.6 L562.9,309.5 L563.2,310.3 L563.5,311.2 L563.9,312.0 L564.2,312.9 L564.5,313.8 L564.9,314.7 L565.2,315.6 L565.5,316.5 L565.9,317.4 L566.2,318.3 L566.5,319.2 L566.8,320.2 L567.2,321.1 L567.5,322.1 L567.8,323.0 L568.2,324.0 L568.5,325.0 L568.8,325.9 L569.2,326.9 L569.5,327.9 L569.8,328.9 L570.2,329.9 L570.5,331.0 L570.8,332.0 L571.2,333.0 L571.5,334.1 L571.8,335.1 L572.2,336.2 L572.5,337.2 L572.8,338.3 L573.2,339.4 L573.5,340.5 L573.9,341.6 L574.2,342.7 L574.6,343.8 L574.9,344.9 L575.3,346.1 L575.6,347.2 L576.0,348.3 L576.3,349.5 L576.7,350.7 L577.1,351.8 L577.4,353.0 L577.8,354.2 L578.2,355.4 L578.6,356.6 L578.9,357.8 L579.3,359.0 L579.7,360.2 L580.1,361.4 L580.5,362.7 L580.9,363.9 L581.3,365.2 L581.7,366.4 L582.2,367.7 L582.6,369.0 L583.0,370.3 L583.5,371.6 L583.9,372.9 L584.4,374.2 L584.8,375.5 L585.3,376.8 L585.7,378.2 L586.2,379.5 L586.7,380.8 L587.2,382.2 L587.7,383.6 L588.2,384.9 L588.7,386.3 L589.3,387.7 L589.8,389.1 L590.3,390.5 L590.9,391.9 L591.5,393.3 L592.1,394.8 L592.6,396.2 L593.2,397.6 L593.9,399.1 L594.5,400.5 L595.1,402.0 L595.8,403.5 L596.4,405.0 L597.1,406.4 L597.8,407.9 L598.5,409.5 L599.2,411.0 L600.0,412.5 L600.6,413.7 L601.1,414.7 L601.7,415.7 L602.3,416.5 L602.8,417.2 L603.4,417.9 L603.9,418.4 L604.5,418.9 L605.0,419.3 L605.5,419.6 L606.0,419.8 L606.6,420.0 L607.1,420.1 L607.6,420.2 L608.1,420.2 L608.6,420.2 L609.0,420.1 L609.5,420.0 L610.0,419.8 L610.5,419.6 L610.9,419.3 L611.4,419.0 L612.0,418.6 L612.5,418.1 L613.0,417.5 L613.6,416.8 L614.2,416.0 L614.8,415.2 L615.5,414.2 L616.1,413.1 L616.3,412.8 L616.5,412.5 L616.7,412.2 L616.8,411.8 L617.0,411.5 L617.2,411.2 L617.4,410.9 L617.5,410.5 L617.7,410.2 L617.9,409.9 L618.1,409.6 L618.2,409.2 L618.4,408.9 L618.6,408.6 L618.7,408.2 L618.9,407.9 L619.1,407.6 L619.2,407.3 L619.4,406.9 L619.6,406.6 L619.7,406.3 L619.9,406.0 L620.1,405.7 L620.3,405.3 L620.5,405.0 L620.6,404.7 L620.8,404.4 L621.0,404.1 L621.2,403.8" stroke="#6da141" stroke-width="4.15" fill="none" stroke-linejoin="round" stroke-linecap="butt"/>
<path d="M259,69.9 H313.4" stroke="#266dab" stroke-width="3.6"/>
<path d="M259,107.0 H313.4" stroke="#6da141" stroke-width="3.6"/>
<text x="316.5" y="79.3" font-family="'Liberation Serif', serif" font-size="32" fill="#231815" stroke="#231815" stroke-width="0.35">Keller equation</text>
<text x="316.5" y="116.9" letter-spacing="0.8" font-family="'Liberation Serif', serif" font-size="32" fill="#231815" stroke="#231815" stroke-width="0.35">LPE</text>
<text x="90.2" y="40.9" text-anchor="end" font-family="'Liberation Serif', serif" font-size="32" fill="#231815" stroke="#231815" stroke-width="0.35">20</text>
<text x="90.2" y="205.7" text-anchor="end" font-family="'Liberation Serif', serif" font-size="32" fill="#231815" stroke="#231815" stroke-width="0.35">15</text>
<text x="90.2" y="370.6" text-anchor="end" font-family="'Liberation Serif', serif" font-size="32" fill="#231815" stroke="#231815" stroke-width="0.35">10</text>
<text x="90.2" y="536.2" text-anchor="end" font-family="'Liberation Serif', serif" font-size="32" fill="#231815" stroke="#231815" stroke-width="0.35">5</text>
<text x="99.5" y="626.2" text-anchor="middle" font-family="'Liberation Serif', serif" font-size="32" fill="#231815" stroke="#231815" stroke-width="0.35">0</text>
<text x="186.1" y="626.2" text-anchor="middle" font-family="'Liberation Serif', serif" font-size="32" fill="#231815" stroke="#231815" stroke-width="0.35">0.2</text>
<text x="273.0" y="626.2" text-anchor="middle" font-family="'Liberation Serif', serif" font-size="32" fill="#231815" stroke="#231815" stroke-width="0.35">0.4</text>
<text x="360.5" y="626.2" text-anchor="middle" font-family="'Liberation Serif', serif" font-size="32" fill="#231815" stroke="#231815" stroke-width="0.35">0.6</text>
<text x="447.7" y="626.2" text-anchor="middle" font-family="'Liberation Serif', serif" font-size="32" fill="#231815" stroke="#231815" stroke-width="0.35">0.8</text>
<text x="534.8" y="626.2" text-anchor="middle" font-family="'Liberation Serif', serif" font-size="32" fill="#231815" stroke="#231815" stroke-width="0.35">1.0</text>
<text x="621.5" y="626.2" text-anchor="middle" font-family="'Liberation Serif', serif" font-size="32" fill="#231815" stroke="#231815" stroke-width="0.35">1.2</text>
<text x="360" y="655.8" text-anchor="middle" font-family="'Liberation Serif', serif" font-size="32" fill="#231815" stroke="#231815" stroke-width="0.35"><tspan font-style="italic">t</tspan> (ms)</text>
<text transform="translate(45.3,312.5) rotate(-90)" text-anchor="middle" font-family="'Liberation Serif', serif" font-size="32" fill="#231815" stroke="#231815" stroke-width="0.35"><tspan font-style="italic">R</tspan> (mm)</text>
</svg>
</body>
</html>
